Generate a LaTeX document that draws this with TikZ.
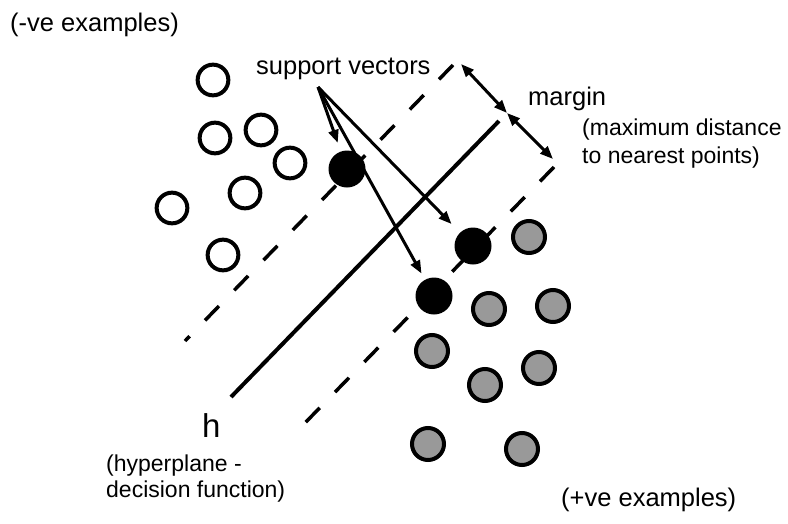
\documentclass[tikz,border=0pt]{standalone}
\usepackage{fontspec}
\setmainfont{Liberation Sans}
\usetikzlibrary{arrows.meta}
\definecolor{posgray}{RGB}{153,153,153}
\begin{document}
\begin{tikzpicture}[x=1pt,y=-1pt,
  negpt/.style={circle,draw=black,line width=4pt,fill=white,minimum size=30.7pt,inner sep=0pt},
  pospt/.style={circle,draw=black,line width=4pt,fill=posgray,minimum size=32pt,inner sep=0pt},
  svpt/.style={circle,fill=black,minimum size=37pt,inner sep=0pt},
  dashline/.style={line width=3.5pt,dash pattern=on 20pt off 22pt},
  hline/.style={line width=4pt},
  svarrow/.style={line width=3pt,-{Triangle[length=13pt,width=10pt]}},
  marrow/.style={line width=3pt,{Triangle[length=13pt,width=10pt]}-{Triangle[length=13pt,width=10pt]}},
  bigtext/.style={anchor=base west,inner sep=0pt,font=\fontsize{25.5pt}{30pt}\selectfont},
  smalltext/.style={anchor=base west,inner sep=0pt,font=\fontsize{23pt}{27pt}\selectfont},
  htext/.style={anchor=base west,inner sep=0pt,font=\fontsize{33pt}{38pt}\selectfont}]
\useasboundingbox (0,0) rectangle (788,523);

% lines
\coordinate (d1) at (453,65);
\coordinate (d2) at (185,341);
\coordinate (d3) at (554,167);
\coordinate (d4) at (303,425);
\coordinate (h1) at (231,397);
\coordinate (h2) at (499,121);
\draw[dashline] (d1) -- (d2);
\draw[dashline] (d3) -- (d4);
\draw[hline] (h1) -- (h2);

% negative examples
\node[negpt] (n1) at (213,80) {};
\node[negpt] (n2) at (215,138) {};
\node[negpt] (n3) at (261,130) {};
\node[negpt] (n4) at (290,163) {};
\node[negpt] (n5) at (245,193) {};
\node[negpt] (n6) at (172,208) {};
\node[negpt] (n7) at (223,255) {};

% positive examples
\node[pospt] (p1) at (529,237) {};
\node[pospt] (p2) at (489,309) {};
\node[pospt] (p3) at (553,306) {};
\node[pospt] (p4) at (432,351) {};
\node[pospt] (p5) at (539,368) {};
\node[pospt] (p6) at (485,385) {};
\node[pospt] (p7) at (428,444) {};
\node[pospt] (p8) at (522,449) {};

% support vectors
\node[svpt] (s1) at (347,169) {};
\node[svpt] (s2) at (473,246) {};
\node[svpt] (s3) at (434,296) {};

% labels
\node[bigtext] (neg) at (10,31) {(-ve examples)};
\node[bigtext] (pos) at (561,506) {(+ve examples)};
\node[bigtext] (svl) at (256,74) {support vectors};
\node[bigtext] (mar) at (528,105) {margin};
\node[smalltext] (md1) at (582,135) {(maximum distance};
\node[smalltext] (md2) at (582,163) {to nearest points)};
\node[htext] (hl) at (202,437) {h};
\node[smalltext] (hd1) at (106,471) {(hyperplane -};
\node[smalltext] (hd2) at (106,497) {decision function)};

% support vector arrows
\coordinate (sv) at (318,87);
\draw[svarrow,shorten >=9pt] (sv) -- (s1);
\draw[svarrow,shorten >=12pt] (sv) -- (s2);
\draw[svarrow,shorten >=7pt] (sv) -- (s3);

% margin arrows
\coordinate (m1) at (461,64);
\coordinate (m2) at (507,113);
\coordinate (m3) at (553,159);
\draw[marrow] (m1) -- (m2);
\draw[marrow] (m2) -- (m3);
\end{tikzpicture}
\end{document}
